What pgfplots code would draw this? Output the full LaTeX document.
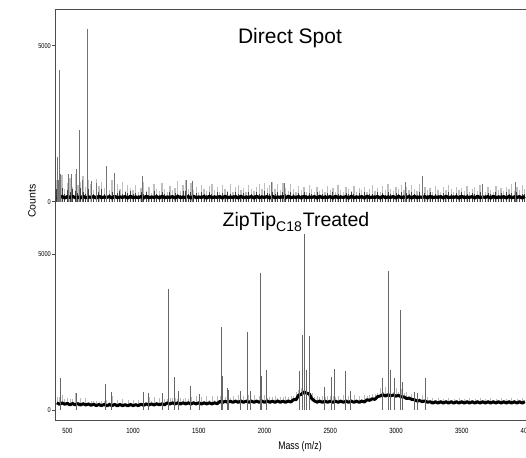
\documentclass[border=0pt]{standalone}
\usepackage{pgfplots}
\pgfplotsset{compat=1.18}
\usepackage{pgfplotstable}
\usepackage{fontspec}
\setmainfont{Liberation Sans}
\newfontfamily\narrowfont[FakeStretch=0.8]{Liberation Sans}

\pgfplotstableread[row sep=\\]{
x g d b\\
420 700 400 150\\ 440 500 300 130\\ 460 850 450 170\\ 480 420 250 120\\ 500 600 380 160\\ 520 760 300 140\\
540 480 420 170\\ 560 900 350 130\\ 580 550 280 150\\ 600 640 450 120\\ 620 820 300 170\\ 640 460 260 130\\
660 700 400 150\\ 680 580 330 140\\ 700 380 250 160\\ 720 720 380 120\\ 740 500 300 170\\ 760 640 420 130\\
780 450 260 150\\ 800 560 350 140\\ 820 380 240 160\\ 840 680 300 120\\ 860 470 380 170\\ 880 560 280 130\\
900 400 330 150\\ 920 620 250 140\\ 940 350 300 160\\ 960 540 270 120\\ 980 430 350 170\\ 1000 380 240 130\\
1020 520 280 150\\ 1040 300 200 130\\ 1060 450 320 160\\ 1080 620 250 120\\ 1100 350 300 170\\ 1120 480 220 130\\
1140 280 180 150\\ 1160 560 330 140\\ 1180 400 260 160\\ 1200 330 210 120\\ 1220 600 300 170\\ 1240 420 240 130\\
1260 300 190 150\\ 1280 500 320 140\\ 1300 380 230 160\\ 1320 450 280 120\\ 1340 650 250 170\\ 1360 340 200 130\\
1380 520 330 150\\ 1400 700 350 140\\ 1420 420 260 160\\ 1440 600 300 120\\ 1460 360 220 170\\ 1480 480 280 130\\
1500 310 190 150\\ 1520 550 320 140\\ 1540 420 250 160\\ 1560 330 200 120\\ 1580 500 300 170\\ 1600 560 240 130\\
1620 380 220 150\\ 1640 460 300 140\\ 1660 300 190 160\\ 1680 520 280 120\\ 1700 400 230 170\\ 1720 350 300 130\\
1740 580 250 150\\ 1760 320 200 140\\ 1780 470 310 160\\ 1800 520 260 120\\ 1820 360 210 170\\ 1840 450 290 130\\
1860 300 190 150\\ 1880 540 320 140\\ 1900 420 240 160\\ 1920 330 200 120\\ 1940 480 300 170\\ 1960 560 260 130\\
1980 400 220 150\\ 2000 600 330 140\\ 2020 450 280 160\\ 2040 520 250 120\\ 2060 620 300 170\\ 2080 400 240 130\\
2100 560 320 150\\ 2120 380 220 140\\ 2140 600 300 160\\ 2160 450 260 120\\ 2180 350 210 170\\ 2200 560 310 130\\
2220 420 250 150\\ 2240 300 190 140\\ 2260 500 290 160\\ 2280 380 230 120\\ 2300 460 300 170\\ 2320 320 200 130\\
2340 520 280 150\\ 2360 400 240 140\\ 2380 300 190 160\\ 2400 480 300 120\\ 2420 350 220 170\\ 2440 420 260 130\\
2460 300 200 150\\ 2480 500 280 140\\ 2500 360 230 160\\ 2520 440 300 120\\ 2540 320 210 170\\ 2560 520 260 130\\
2580 380 230 150\\ 2600 300 190 140\\ 2620 460 280 160\\ 2640 400 250 120\\ 2660 340 300 170\\ 2680 500 240 130\\
2700 320 200 150\\ 2720 440 280 140\\ 2740 360 220 160\\ 2760 480 300 120\\ 2780 300 200 170\\ 2800 420 260 130\\
2820 520 240 150\\ 2840 350 210 140\\ 2860 450 300 160\\ 2880 300 190 120\\ 2900 500 270 170\\ 2920 380 230 130\\
2940 560 300 150\\ 2960 420 250 140\\ 2980 330 200 160\\ 3000 480 290 120\\ 3020 400 240 170\\ 3040 540 320 130\\
3060 360 220 150\\ 3080 460 280 140\\ 3100 380 240 160\\ 3120 520 300 120\\ 3140 420 260 170\\ 3160 340 200 130\\
3180 560 300 150\\ 3200 400 250 140\\ 3220 480 280 160\\ 3240 360 220 120\\ 3260 440 300 170\\ 3280 320 200 130\\
3300 500 260 150\\ 3320 380 230 140\\ 3340 300 190 160\\ 3360 460 280 120\\ 3380 360 220 170\\ 3400 520 300 130\\
3420 400 240 150\\ 3440 320 200 140\\ 3460 480 280 160\\ 3480 380 230 120\\ 3500 440 300 170\\ 3520 340 210 130\\
3540 500 260 150\\ 3560 300 190 140\\ 3580 420 280 160\\ 3600 480 240 120\\ 3620 350 220 170\\ 3640 520 300 130\\
3660 400 250 150\\ 3680 320 200 140\\ 3700 460 280 160\\ 3720 380 240 120\\ 3740 300 190 170\\ 3760 500 300 130\\
3780 360 220 150\\ 3800 440 270 140\\ 3820 330 210 160\\ 3840 480 300 120\\ 3860 400 240 170\\ 3880 560 280 130\\
3900 350 220 150\\ 3920 460 300 140\\ 3940 380 230 160\\ 3960 520 260 120\\ 3980 400 240 170\\
}\toptab

\pgfplotstableread[row sep=\\]{
x b e\\
420 230 190\\ 440 185 240\\ 460 225 250\\ 480 185 170\\ 500 210 180\\ 520 165 180\\
540 205 150\\ 560 165 390\\ 580 205 60\\ 600 160 230\\ 620 200 50\\ 640 160 210\\
660 195 70\\ 680 150 150\\ 700 185 100\\ 720 140 150\\ 740 175 90\\ 760 140 150\\
780 180 110\\ 800 135 180\\ 820 175 90\\ 840 140 310\\ 860 180 60\\ 880 135 200\\
900 175 50\\ 920 140 200\\ 940 170 50\\ 960 135 190\\ 980 175 50\\ 1000 140 170\\
1020 170 50\\ 1040 140 190\\ 1060 185 50\\ 1080 150 220\\ 1100 195 60\\ 1120 160 270\\
1140 195 90\\ 1160 160 250\\ 1180 200 60\\ 1200 165 210\\ 1220 200 120\\ 1240 165 180\\
1260 230 110\\ 1280 190 190\\ 1300 230 150\\ 1320 195 200\\ 1340 230 130\\ 1360 190 180\\
1380 230 110\\ 1400 195 190\\ 1420 230 130\\ 1440 190 230\\ 1460 230 70\\ 1480 195 240\\
1500 230 80\\ 1520 190 230\\ 1540 230 60\\ 1560 195 240\\ 1580 230 80\\ 1600 195 260\\
1620 230 90\\ 1640 200 240\\ 1660 275 160\\ 1680 240 220\\ 1700 280 140\\ 1720 245 200\\
1740 280 120\\ 1760 245 220\\ 1780 285 60\\ 1800 245 250\\ 1820 285 80\\ 1840 245 220\\
1860 285 60\\ 1880 245 250\\ 1900 285 80\\ 1920 245 230\\ 1940 285 70\\ 1960 245 220\\
1980 285 80\\ 2000 245 240\\ 2020 290 90\\ 2040 245 170\\ 2060 285 120\\ 2080 245 190\\
2100 290 90\\ 2120 245 170\\ 2140 285 120\\ 2160 245 190\\ 2180 290 130\\ 2200 255 200\\
2220 330 120\\ 2240 330 240\\ 2260 480 150\\ 2280 500 220\\ 2300 580 180\\ 2320 540 250\\
2340 520 120\\ 2360 360 170\\ 2380 290 120\\ 2400 250 190\\ 2420 285 120\\ 2440 245 190\\
2460 285 140\\ 2480 245 210\\ 2500 285 160\\ 2520 245 190\\ 2540 285 130\\ 2560 245 210\\
2580 285 60\\ 2600 245 230\\ 2620 285 80\\ 2640 245 210\\ 2660 285 60\\ 2680 245 230\\
2700 285 80\\ 2720 245 210\\ 2740 285 60\\ 2760 255 230\\ 2780 330 120\\ 2800 310 170\\
2820 360 140\\ 2840 340 180\\ 2860 430 130\\ 2880 450 250\\ 2900 490 100\\ 2920 450 280\\
2940 490 180\\ 2960 455 230\\ 2980 480 100\\ 3000 445 260\\ 3020 470 100\\ 3040 420 240\\
3060 420 110\\ 3080 370 200\\ 3100 380 80\\ 3120 340 180\\ 3140 330 80\\ 3160 290 190\\
3180 300 70\\ 3200 270 220\\ 3220 290 60\\ 3240 250 180\\ 3260 265 60\\ 3280 220 160\\
3300 265 70\\ 3320 220 150\\ 3340 265 60\\ 3360 220 140\\ 3380 265 50\\ 3400 220 150\\
3420 265 60\\ 3440 220 140\\ 3460 265 50\\ 3480 220 150\\ 3500 265 60\\ 3520 220 140\\
3540 265 50\\ 3560 220 150\\ 3580 265 70\\ 3600 220 140\\ 3620 265 50\\ 3640 220 150\\
3660 265 60\\ 3680 220 140\\ 3700 265 50\\ 3720 220 150\\ 3740 265 60\\ 3760 220 140\\
3780 265 50\\ 3800 220 150\\ 3820 265 60\\ 3840 220 140\\ 3860 265 50\\ 3880 220 150\\
3900 265 60\\ 3920 220 140\\ 3940 265 50\\ 3960 220 150\\ 3980 265 60\\
}\bottab

\pgfplotsset{
  specstyle/.style={
    scale only axis, anchor=south west,
    width=472.4pt, xmin=406, xmax=4000,
    axis line style={black!70, line width=0.6pt},
    tick style={black!70, line width=0.5pt},
    tick align=outside,
    y tick label style={font=\narrowfont\fontsize{7}{8}\selectfont, inner sep=1pt},
    /pgf/number format/assume math mode=true,
    ytick={0,5000}, yticklabels={0,5000},
    major tick length=3pt,
  }
}

\begin{document}
\begin{tikzpicture}[x=1pt,y=1pt]
\begin{axis}[specstyle, at={(55pt,254pt)}, height=193.7pt,
  ymin=-42, ymax=6167,
  axis x line*=top, axis y line*=left, xtick=\empty]
\addplot[ycomb, gray!50, line width=1.3pt] table[x=x,y=g]{\toptab};
\addplot[ycomb, black!75, line width=0.9pt] table[x=x,y=d]{\toptab};
\addplot[black, line width=3.2pt, line join=round] table[x=x,y=b]{\toptab};
\addplot[ycomb, black!55, line width=0.5pt] coordinates {
(424,1440) (432,700) (439,4220) (447,900) (503,890) (533,890) (566,1040) (591,2300)
(610,700) (655,5525) (680,650) (720,600) (794,1150) (860,930) (1073,820) (1407,700)
(1447,670) (2051,620) (2151,600) (3074,620) (3200,830) (3660,575) (3906,620)};
\end{axis}

\begin{axis}[specstyle, at={(55pt,36.3pt)}, height=217.7pt,
  ymin=-344, ymax=6647,
  axis x line*=bottom, axis y line*=left,
  xtick={500,1000,1500,2000,2500,3000,3500,4000},
  xticklabels={500,1000,1500,2000,2500,3000,3500,4000},
  x tick style={draw=none},
  x tick label style={font=\narrowfont\fontsize{7.5}{8}\selectfont, inner sep=0pt, yshift=-4pt}]
\addplot[draw=none, mark=none, forget plot,
  error bars/.cd, y dir=plus, y explicit,
  error mark=none, error bar style={gray!55, line width=0.6pt}]
  table[x=x, y=b, y error=e]{\bottab};
\addplot[black, line width=3pt, line join=round] table[x=x,y=b]{\bottab};
\addplot[ycomb, black!60, line width=0.5pt] coordinates {
(445,1020) (569,540) (791,840) (834,590) (1074,590) (1112,560) (1223,540) (1268,3890)
(1314,1075) (1340,600) (1435,775) (1500,500) (1670,2670) (1680,1100) (1718,700) (1722,650)
(1814,610) (1867,2515) (1890,600) (1965,4390) (1975,1100) (2011,1290) (2261,1240) (2284,2420)
(2299,5645) (2305,1560) (2320,1290) (2344,2365) (2453,750) (2508,1075) (2533,1310) (2612,1240)
(2650,620) (2898,1040) (2943,4460) (2955,1300) (2989,1040) (3034,3225) (3050,900) (3137,590)
(3160,560) (3219,1020)};
\end{axis}

\node[font=\fontsize{21}{24}\selectfont] at (290,419) {Direct Spot};
\node[font=\fontsize{19.5}{22}\selectfont] at (296,235) {ZipTip\raisebox{-0.3em}{\fontsize{14}{15}\selectfont C18}\kern1pt Treated};
\node[rotate=90, font=\fontsize{10.5}{12}\selectfont] at (32,256) {Counts};
\node[font=\narrowfont\fontsize{11}{12}\selectfont] at (300,10) {Mass (m/z)};

\pgfresetboundingbox
\useasboundingbox (0,0) rectangle (526,457);
\end{tikzpicture}
\end{document}
